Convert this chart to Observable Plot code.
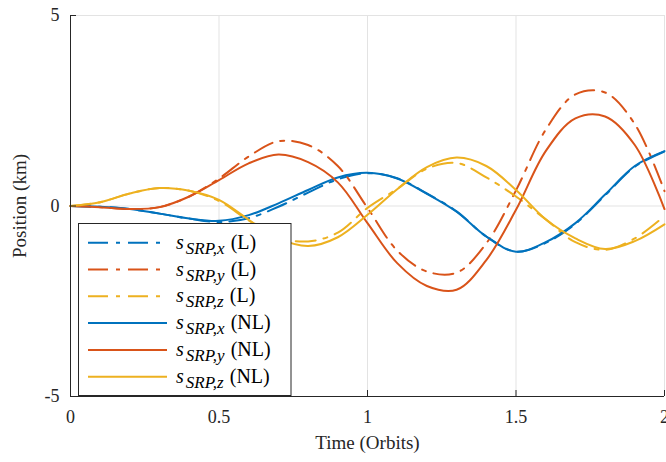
<!DOCTYPE html>
<html><head><meta charset="utf-8">
<script src="https://cdn.jsdelivr.net/npm/d3@7"></script>
<script src="https://cdn.jsdelivr.net/npm/@observablehq/plot@0.6"></script>
<style>body{margin:0;background:#fff}#chart{width:666px;height:462px}</style>
</head><body><div id="chart"></div>
<script>
// Time samples (orbits)
const time = [0,0.1,0.2,0.3,0.4,0.5,0.6,0.7,0.8,0.9,1.0,1.1,1.2,1.3,1.4,1.5,1.6,1.7,1.8,1.9,2.0];
// Linear model (L)
const xL  = [0,-0.02,-0.08,-0.2,-0.33,-0.42,-0.32,-0.02,0.35,0.7,0.86,0.73,0.33,-0.14,-0.8,-1.2,-0.97,-0.47,0.28,1.03,1.43];
const yL  = [0,-0.03,-0.08,-0.03,0.25,0.72,1.3,1.7,1.6,1.05,-0.05,-1.17,-1.72,-1.75,-0.98,0.41,2.0,2.93,2.98,2.15,0.39];
const zL  = [0,0.1,0.33,0.47,0.4,0.13,-0.38,-0.82,-0.93,-0.7,-0.05,0.45,0.98,1.13,0.75,0.25,-0.35,-0.95,-1.15,-0.85,-0.26];
// Nonlinear model (NL)
const xNL = [0,-0.02,-0.08,-0.2,-0.33,-0.39,-0.24,0.07,0.42,0.75,0.87,0.72,0.32,-0.15,-0.8,-1.2,-0.95,-0.45,0.3,1.05,1.44];
const yNL = [0,-0.03,-0.08,-0.03,0.25,0.68,1.12,1.35,1.15,0.62,-0.45,-1.5,-2.1,-2.2,-1.42,-0.1,1.44,2.3,2.35,1.6,-0.08];
const zNL = [0,0.1,0.33,0.47,0.4,0.16,-0.36,-0.85,-1.05,-0.82,-0.23,0.44,1.02,1.27,1.05,0.42,-0.35,-0.85,-1.13,-0.92,-0.48];

const xTicks = [0,0.5,1,1.5,2];
const yTicks = [-5,0,5];
const seriesList = [
  {key:"x", model:"L",  values:xL,  color:"#0072BD", dash:"20,8,4,8"},
  {key:"y", model:"L",  values:yL,  color:"#D95319", dash:"20,8,4,8"},
  {key:"z", model:"L",  values:zL,  color:"#EDB120", dash:"20,8,4,8"},
  {key:"x", model:"NL", values:xNL, color:"#0072BD", dash:null},
  {key:"y", model:"NL", values:yNL, color:"#D95319", dash:null},
  {key:"z", model:"NL", values:zNL, color:"#EDB120", dash:null}
];

const W=666, H=462, mL=70, mR=2, mT=15, mB=66;
const pw = W-mL-mR, ph = H-mT-mB;
const axisColor = "#262626";
const font = "'Liberation Serif', serif";

const lineMarks = seriesList.map(s => Plot.line(time.map((t,i)=>({t, v:s.values[i]})), {
  x:"t", y:"v", stroke:s.color, strokeWidth:2, curve:"catmull-rom",
  strokeDasharray: s.dash || undefined
}));

const plot = Plot.plot({
  width:W, height:H, marginLeft:mL, marginRight:mR, marginTop:mT, marginBottom:mB,
  x:{domain:[0,2]}, y:{domain:[-5,5]},
  style:{fontFamily:font, fontSize:"18px", color:axisColor, background:"#fff"},
  marks:[
    Plot.ruleX(xTicks.slice(1), {stroke:"#e3e3e3", strokeWidth:1}),
    Plot.ruleY([0,5], {stroke:"#e3e3e3", strokeWidth:1}),
    ...lineMarks,
    Plot.ruleX([0], {stroke:axisColor, strokeWidth:1}),
    Plot.ruleY([-5], {stroke:axisColor, strokeWidth:1}),
    Plot.ruleX(xTicks, {stroke:axisColor, insetTop: ph-6}),
    Plot.ruleY(yTicks, {stroke:axisColor, insetRight: pw-6}),
    Plot.axisX(xTicks, {tickSize:0, tickPadding:14, tickFormat:d=>String(d), fontSize:18,
      label:null}),
    Plot.axisY(yTicks, {tickSize:0, tickPadding:11, tickFormat:d=>String(d), fontSize:18,
      label:null}),
    Plot.axisX({ticks:[], label:"Time (Orbits)", labelAnchor:"center", labelArrow:"none", labelOffset:52, fontSize:19}),
    Plot.axisY({ticks:[], label:"Position (km)", labelAnchor:"center", labelArrow:"none", labelOffset:58, fontSize:19})
  ]
});
document.getElementById("chart").appendChild(plot);

// Legend (inside the axes, lower left)
const svg = d3.select(plot);
const lg = svg.append("g").attr("font-family",font).attr("fill","#000").attr("text-anchor","start");
lg.append("rect").attr("x",78.5).attr("y",223.5).attr("width",212.5).attr("height",172)
  .attr("fill","#fff").attr("stroke",axisColor).attr("stroke-width",1);
seriesList.forEach((s,i)=>{
  const cy = 242.7 + i*26.8;
  lg.append("line").attr("x1",88).attr("x2",167).attr("y1",cy).attr("y2",cy)
    .attr("stroke",s.color).attr("stroke-width",2).attr("stroke-dasharray",s.dash);
  const tx = lg.append("text").attr("x",176).attr("y",cy).attr("dy","0.3em").attr("font-size",20);
  tx.append("tspan").attr("font-style","italic").text("s");
  tx.append("tspan").attr("font-style","italic").attr("font-size",17).attr("dy",5).attr("dx",2).text("SRP,"+s.key);
  tx.append("tspan").attr("dy",-5).attr("dx",6).text("(" + s.model + ")");
});
</script></body></html>
